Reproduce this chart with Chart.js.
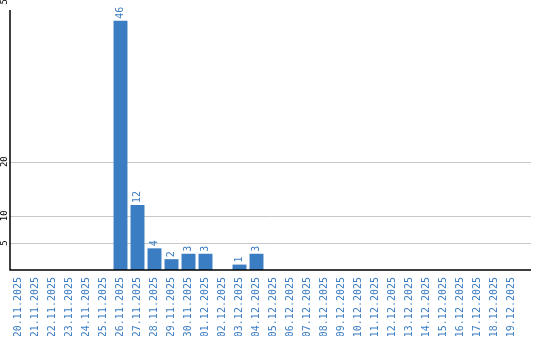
<!DOCTYPE html>
<html>
<head>
<meta charset="utf-8">
<script src="https://cdn.jsdelivr.net/npm/chart.js@4"></script>
<style>
html, body { margin: 0; padding: 0; background: #fff; }
#wrap { width: 540px; height: 340px; }
</style>
</head>
<body>
<div id="wrap"><canvas id="grafico"></canvas></div>
<script>
const datas = [
    '20.11.2025', '21.11.2025', '22.11.2025', '23.11.2025', '24.11.2025', '25.11.2025',
    '26.11.2025', '27.11.2025', '28.11.2025', '29.11.2025', '30.11.2025', '01.12.2025',
    '02.12.2025', '03.12.2025', '04.12.2025', '05.12.2025', '06.12.2025', '07.12.2025',
    '08.12.2025', '09.12.2025', '10.12.2025', '11.12.2025', '12.12.2025', '13.12.2025',
    '14.12.2025', '15.12.2025', '16.12.2025', '17.12.2025', '18.12.2025', '19.12.2025'
];
const valores = [0, 0, 0, 0, 0, 0, 46, 12, 4, 2, 3, 3, 0, 1, 3, 0, 0, 0, 0, 0, 0, 0, 0, 0, 0, 0, 0, 0, 0, 0];
const marcasY = [5, 10, 20, 50];
const maxY = 48;

const azul = '#3b7dc2';
const fonteMono = "'DejaVu Sans Mono', 'Liberation Mono', monospace";

// grade, eixos e rótulos desenhados à mão (posições vindas das escalas)
const extras = {
    id: 'extras',
    beforeDatasetsDraw(chart) {
        const { ctx, chartArea, scales } = chart;
        const fim = chartArea.right + 11;
        ctx.save();
        ctx.strokeStyle = '#c8c8c8';
        ctx.lineWidth = 1;
        marcasY.forEach(v => {
            if (v >= maxY) return;
            const y = Math.round(scales.y.getPixelForValue(v)) + 0.5;
            ctx.beginPath();
            ctx.moveTo(chartArea.left, y);
            ctx.lineTo(fim, y);
            ctx.stroke();
        });
        ctx.restore();
    },
    afterDatasetsDraw(chart) {
        const { ctx, chartArea, scales } = chart;
        const fim = chartArea.right + 11;
        ctx.save();
        // eixos
        ctx.strokeStyle = '#000';
        ctx.lineWidth = 1.5;
        ctx.beginPath();
        ctx.moveTo(chartArea.left, chartArea.top);
        ctx.lineTo(chartArea.left, chartArea.bottom);
        ctx.lineTo(fim, chartArea.bottom);
        ctx.stroke();

        // rótulos do eixo y (girados)
        ctx.fillStyle = '#000';
        ctx.font = '9px ' + fonteMono;
        ctx.textAlign = 'center';
        ctx.textBaseline = 'middle';
        marcasY.forEach(v => {
            const y = scales.y.getPixelForValue(v);
            ctx.save();
            ctx.translate(chartArea.left - 5, y);
            ctx.rotate(-Math.PI / 2);
            ctx.fillText(String(v), 0, 0);
            ctx.restore();
        });

        // valores sobre as barras
        ctx.fillStyle = azul;
        ctx.font = '10px ' + fonteMono;
        ctx.textAlign = 'left';
        const meta = chart.getDatasetMeta(0);
        meta.data.forEach((barra, i) => {
            if (!valores[i]) return;
            ctx.save();
            ctx.translate(barra.x, barra.y - 2);
            ctx.rotate(-Math.PI / 2);
            ctx.fillText(String(valores[i]), 0, 0);
            ctx.restore();
        });
        ctx.restore();
    }
};

const ctx = document.getElementById('grafico').getContext('2d');
const grafico = new Chart(ctx, {
    type: 'bar',
    data: {
        labels: datas,
        datasets: [{
            data: valores,
            backgroundColor: azul,
            borderWidth: 0,
            barPercentage: 0.82,
            categoryPercentage: 1
        }]
    },
    options: {
        responsive: true,
        maintainAspectRatio: false,
        animation: false,
        layout: {
            padding: { left: 10, top: 10, right: 20, bottom: 4 }
        },
        plugins: {
            legend: { display: false },
            tooltip: { enabled: false }
        },
        scales: {
            x: {
                grid: { display: false, drawTicks: false },
                border: { display: false },
                afterFit: s => { s.height = 66; },
                ticks: {
                    autoSkip: false,
                    minRotation: 90,
                    maxRotation: 90,
                    padding: 7,
                    color: azul,
                    font: { family: fonteMono, size: 10 }
                }
            },
            y: {
                display: false,
                min: 0,
                max: maxY
            }
        }
    },
    plugins: [extras]
});
</script>
</body>
</html>
